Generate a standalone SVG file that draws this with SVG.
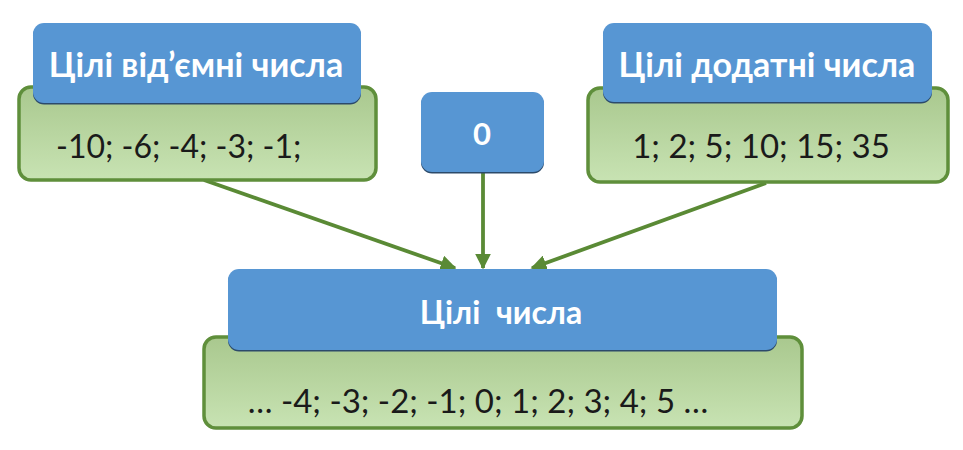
<svg xmlns="http://www.w3.org/2000/svg" width="963" height="450" viewBox="0 0 963 450">
<defs>
<linearGradient id="gg" x1="0" y1="0" x2="0" y2="1">
<stop offset="0" stop-color="#a9c88e"/>
<stop offset="1" stop-color="#c8e3b3"/>
</linearGradient>
<marker id="ah" viewBox="0 0 10 10" refX="9" refY="5" markerWidth="4.2" markerHeight="4.2" orient="auto" markerUnits="strokeWidth">
<path d="M0,0 L10,5 L0,10 z" fill="#5a8a35"/>
</marker>
</defs>
<style>
.green{fill:url(#gg);stroke:#5f8f3b;stroke-width:3.5}
.blue{fill:#5796d3}
.shadow{fill:#2c4a6a}
.head{font-family:Lato,"Open Sans",sans-serif;font-weight:bold;fill:#ffffff;text-anchor:middle}
.body{font-family:Lato,"Open Sans",sans-serif;fill:#1a1a1a}
.conn{stroke:#5a8a35;stroke-width:3.8;fill:none;marker-end:url(#ah)}
</style>
<rect width="963" height="450" fill="#ffffff"/>
<g id="connectors">
<line class="conn" x1="204" y1="180" x2="455" y2="268"/>
<line class="conn" x1="483" y1="172" x2="483" y2="268"/>
<line class="conn" x1="766" y1="183" x2="532" y2="268"/>
</g>
<g id="negative">
<rect class="green" x="19" y="87" width="357" height="93" rx="12"/>
<rect class="shadow" x="33" y="24.5" width="328" height="80" rx="11"/>
<rect class="blue" x="33" y="23" width="328" height="80" rx="11"/>
<text class="head" x="196" y="77" font-size="34">Цілі від’ємні числа</text>
<text class="body" x="56" y="158" font-size="32">-10; -6; -4; -3; -1;</text>
</g>
<g id="zero">
<rect class="shadow" x="421" y="93.5" width="123" height="80" rx="11"/>
<rect class="blue" x="421" y="92" width="123" height="80" rx="11"/>
<text class="head" x="482" y="145" font-size="31">0</text>
</g>
<g id="positive">
<rect class="green" x="588" y="88" width="360" height="94" rx="12"/>
<rect class="shadow" x="603" y="24.5" width="329" height="79" rx="11"/>
<rect class="blue" x="603" y="23" width="329" height="79" rx="11"/>
<text class="head" x="767" y="77" font-size="34">Цілі додатні числа</text>
<text class="body" x="761" y="158" font-size="33" text-anchor="middle">1; 2; 5; 10; 15; 35</text>
</g>
<g id="integers">
<rect class="green" x="204" y="337" width="598" height="91" rx="12"/>
<rect class="shadow" x="228" y="270.5" width="549" height="81" rx="11"/>
<rect class="blue" x="228" y="269" width="549" height="81" rx="11"/>
<text class="head" x="501" y="324" font-size="32" xml:space="preserve">Цілі  числа</text>
<text class="body" x="478" y="413" font-size="33" text-anchor="middle">… -4; -3; -2; -1; 0; 1; 2; 3; 4; 5 …</text>
</g>
</svg>
